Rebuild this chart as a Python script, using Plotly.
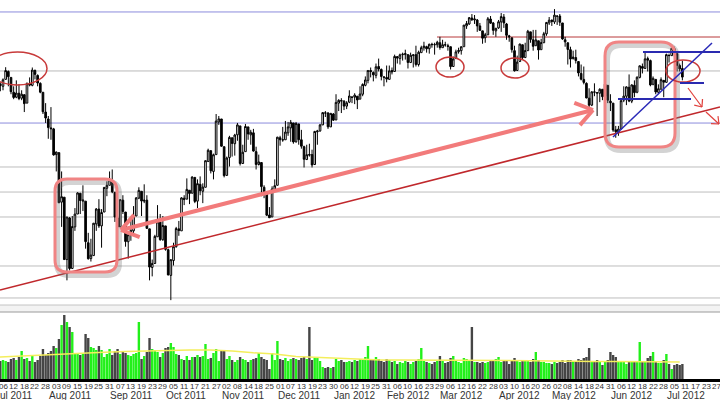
import math
import pandas as pd
import plotly.graph_objects as go

# ---------------- calendar (NYSE trading days) ----------------
holidays = ["2011-07-04", "2011-09-05", "2011-11-24", "2011-12-26", "2012-01-02",
            "2012-01-16", "2012-02-20", "2012-04-06", "2012-05-28", "2012-07-04"]
calendar = [d for d in pd.bdate_range("2011-07-01", "2012-07-31")
            if d.strftime("%Y-%m-%d") not in holidays]

# ---------------- daily data (Jul 1 2011 .. Jul 10 2012) ----------------
opens = [
    12410, 12580, 12560, 12630, 12710, 12650, 12500, 12450, 12490, 12440, 12475, 12390, 12590, 12570, 12720, 12670, 12590, 12500, 12300, 12230,
    12140, 12130, 11870, 11890, 11390, 11440, 10810, 11230, 10720, 11140, 11270, 11480, 11400, 11400, 10980, 10820, 10850, 11170, 11320, 11150, 11290, 11530, 11560,
    11610, 11490, 11230, 11140, 11410, 11290, 10990, 11060, 11100, 11250, 11430, 11500, 11400, 11410, 11120, 10730, 10770, 11040, 11190, 11010, 11150,
    10910, 10650, 10800, 10940, 11120, 11100, 11430, 11420, 11510, 11480, 11640, 11400, 11570, 11500, 11540, 11800, 11910, 11700, 11870, 12200, 12230,
    11950, 11660, 11840, 12040, 11980, 12070, 12160, 11780, 11900, 12150, 12070, 12090, 11900, 11770, 11790, 11540, 11480, 11260, 11240, 11520, 11560,
    12040, 12020, 12020, 12090, 12140, 12190, 12000, 12180, 12020, 11950, 11820, 11870, 11870, 11770, 12100, 12110, 12170, 12290, 12290, 12150, 12280,
    12220, 12390, 12410, 12410, 12360, 12400, 12450, 12450, 12460, 12430, 12480, 12570, 12620, 12720, 12700, 12670, 12760, 12730, 12650, 12650,
    12630, 12720, 12710, 12860, 12840, 12880, 12880, 12880, 12800, 12870, 12880, 12780, 12900, 12950, 12960, 12940, 12980, 12980, 12980, 13000,
    12950, 12980, 12970, 12960, 12760, 12840, 12910, 12920, 12960, 13170, 13190, 13250, 13230, 13230, 13170, 13120, 13050, 13080, 13240, 13200, 13120, 13150,
    13210, 13260, 13190, 13070, 13050, 12920, 12720, 12810, 12980, 12850, 12920, 13110, 13030, 12970, 13020, 12930, 13000, 13090, 13200, 13230,
    13210, 13270, 13270, 13200, 13030, 13000, 12930, 12840, 12850, 12810, 12690, 12630, 12590, 12440, 12370, 12500, 12490, 12490, 12530, 12460, 12570, 12410,
    12390, 12120, 12100, 12130, 12420, 12460, 12550, 12410, 12570, 12500, 12650, 12760, 12740, 12840, 12820, 12580, 12630, 12500, 12530, 12620, 12600,
    12870, 12870, 12940, 12890, 12770, 12740,
]
highs = [
    12600, 12600, 12640, 12753, 12720, 12650, 12560, 12620, 12580, 12520, 12480, 12600, 12650, 12750, 12730, 12680, 12600, 12500, 12390, 12260,
    12350, 12140, 11900, 11890, 11700, 11440, 11240, 11240, 11250, 11330, 11490, 11480, 11560, 11400, 11080, 11020, 11180, 11330, 11420, 11320, 11540, 11600, 11700,
    11720, 11490, 11240, 11420, 11460, 11290, 11080, 11210, 11350, 11440, 11540, 11500, 11570, 11460, 11120, 10810, 11060, 11360, 11270, 11250, 11150,
    10920, 10810, 10980, 11140, 11200, 11440, 11460, 11630, 11510, 11650, 11640, 11620, 11650, 11580, 11810, 11930, 11910, 11880, 12280, 12260, 12230,
    11950, 11850, 12060, 12040, 12080, 12190, 12160, 11970, 12180, 12150, 12120, 12130, 11950, 11870, 11790, 11560, 11490, 11340, 11550, 11620, 12050,
    12060, 12150, 12210, 12200, 12220, 12190, 12200, 12180, 12120, 11960, 11970, 11980, 11920, 12110, 12120, 12180, 12300, 12310, 12300, 12290, 12290,
    12480, 12430, 12440, 12420, 12410, 12520, 12460, 12490, 12460, 12560, 12590, 12660, 12720, 12750, 12710, 12790, 12840, 12740, 12660, 12770,
    12770, 12750, 12880, 12860, 12890, 12900, 12930, 12880, 12900, 12880, 12970, 12920, 12970, 13010, 12970, 12990, 13000, 13000, 13020, 13060,
    13030, 13010, 12990, 12960, 12860, 12930, 12950, 12960, 13180, 13220, 13260, 13290, 13280, 13240, 13200, 13120, 13100, 13260, 13270, 13210, 13150, 13230,
    13300, 13290, 13200, 13080, 13050, 12970, 12870, 12990, 12980, 13000, 13130, 13110, 13130, 13130, 13020, 13040, 13110, 13210, 13260, 13230,
    13340, 13270, 13290, 13200, 13060, 13000, 12960, 12920, 12930, 12810, 12780, 12760, 12600, 12540, 12510, 12590, 12500, 12540, 12530, 12610, 12570, 12480,
    12390, 12160, 12160, 12420, 12560, 12560, 12680, 12580, 12620, 12660, 12770, 12790, 12900, 12860, 12830, 12660, 12630, 12580, 12650, 12620, 12890,
    12890, 12950, 12960, 12890, 12790, 12820,
]
lows = [
    12400, 12510, 12520, 12630, 12560, 12480, 12430, 12440, 12420, 12420, 12300, 12390, 12560, 12560, 12630, 12560, 12490, 12280, 12190, 12030,
    12020, 11860, 11700, 11380, 11140, 10810, 10600, 10700, 10720, 11100, 11270, 11270, 11300, 10920, 10810, 10790, 10850, 11100, 11130, 10930, 11290, 11450, 11560,
    11480, 11190, 10930, 11140, 11270, 10940, 10820, 11000, 11060, 11250, 11420, 11250, 11380, 11120, 10600, 10640, 10770, 11040, 11000, 11000, 10900,
    10650, 10400, 10750, 10930, 11050, 11100, 11360, 11420, 11370, 11480, 11380, 11330, 11460, 11380, 11540, 11800, 11680, 11620, 11870, 12170, 11950,
    11640, 11660, 11750, 11850, 11860, 12010, 11760, 11780, 11900, 12020, 11970, 11900, 11720, 11760, 11450, 11430, 11250, 11230, 11240, 11500, 11560,
    11960, 12000, 12020, 12060, 12000, 11980, 11990, 11970, 11930, 11740, 11820, 11850, 11740, 11770, 11970, 12100, 12170, 12250, 12130, 12150, 12210,
    12220, 12310, 12290, 12320, 12330, 12390, 12390, 12380, 12330, 12430, 12460, 12560, 12590, 12650, 12610, 12640, 12710, 12620, 12560, 12600,
    12630, 12680, 12710, 12790, 12780, 12820, 12830, 12740, 12800, 12750, 12760, 12760, 12900, 12920, 12900, 12890, 12950, 12880, 12950, 12930,
    12950, 12960, 12920, 12730, 12760, 12840, 12890, 12880, 12960, 13140, 13180, 13220, 13190, 13110, 13120, 12990, 13000, 13080, 13190, 13080, 13060, 13140,
    13110, 13150, 13030, 13010, 12900, 12710, 12720, 12810, 12830, 12850, 12920, 13000, 12920, 12970, 12830, 12930, 13000, 13070, 13180, 13170,
    13190, 13180, 13170, 13030, 12960, 12780, 12750, 12830, 12790, 12660, 12620, 12580, 12440, 12350, 12360, 12460, 12260, 12400, 12420, 12460, 12390, 12310,
    12100, 12040, 12060, 12130, 12400, 12370, 12400, 12390, 12450, 12490, 12640, 12690, 12740, 12710, 12560, 12570, 12480, 12480, 12530, 12450, 12600,
    12800, 12870, 12860, 12710, 12710, 12620,
]
closes = [
    12582, 12570, 12626, 12719, 12657, 12506, 12447, 12492, 12437, 12480, 12385, 12587, 12572, 12724, 12681, 12593, 12501, 12303, 12240, 12143,
    12132, 11867, 11896, 11384, 11445, 10810, 11240, 10720, 11143, 11269, 11483, 11406, 11410, 10991, 10818, 10855, 11177, 11321, 11150, 11285, 11539, 11560, 11614,
    11494, 11240, 11139, 11415, 11296, 10992, 11061, 11106, 11247, 11433, 11509, 11401, 11409, 11125, 10734, 10771, 11044, 11191, 11011, 11154, 10913,
    10655, 10809, 10940, 11123, 11103, 11433, 11416, 11519, 11478, 11644, 11397, 11577, 11505, 11542, 11809, 11914, 11707, 11869, 12209, 12231, 11955,
    11658, 11836, 12044, 11983, 12068, 12170, 11781, 11894, 12154, 12079, 12096, 11906, 11771, 11796, 11547, 11494, 11258, 11232, 11523, 11556, 12046,
    12020, 12019, 12098, 12150, 12196, 11998, 12184, 12021, 11955, 11823, 11869, 11866, 11766, 12104, 12108, 12170, 12294, 12291, 12151, 12287, 12218,
    12397, 12418, 12416, 12360, 12393, 12462, 12449, 12471, 12422, 12482, 12579, 12624, 12720, 12709, 12676, 12757, 12735, 12660, 12654, 12633,
    12716, 12705, 12862, 12845, 12878, 12884, 12890, 12801, 12874, 12878, 12781, 12904, 12950, 12966, 12939, 12985, 12983, 12981, 13005, 12952,
    12980, 12978, 12963, 12759, 12837, 12908, 12922, 12960, 13178, 13194, 13253, 13233, 13239, 13170, 13125, 13046, 13081, 13242, 13198, 13126, 13146, 13212,
    13264, 13200, 13075, 13060, 12930, 12716, 12805, 12987, 12850, 12921, 13116, 13033, 12964, 13029, 12927, 13002, 13091, 13205, 13228, 13214,
    13279, 13269, 13207, 13038, 13009, 12932, 12835, 12855, 12821, 12695, 12632, 12599, 12442, 12369, 12504, 12503, 12496, 12530, 12455, 12581, 12420, 12393,
    12119, 12101, 12128, 12415, 12461, 12554, 12411, 12574, 12496, 12652, 12767, 12742, 12837, 12824, 12574, 12641, 12503, 12535, 12627, 12602, 12880,
    12871, 12944, 12897, 12772, 12736, 12653,
]
volumes = [
    200, 180, 190, 180, 170, 200, 210, 190, 220, 280, 200, 210, 180, 230, 170, 190, 230, 300, 240, 260,
    280, 330, 310, 400, 540, 640, 570, 520, 470, 260, 260, 240, 250, 450, 410, 320, 310, 290, 330, 290, 220, 250, 300,
    240, 280, 300, 250, 270, 260, 240, 230, 250, 260, 570, 200, 230, 270, 410, 300, 290, 270, 220, 260, 310,
    320, 360, 320, 250, 240, 200, 190, 230, 190, 220, 220, 240, 220, 230, 350, 200, 210, 260, 300, 180, 280,
    290, 200, 230, 190, 170, 190, 220, 200, 190, 170, 190, 200, 210, 260, 220, 200, 190, 100, 260, 190, 380,
    200, 190, 210, 180, 200, 210, 200, 190, 210, 220, 200, 520, 190, 220, 210, 180, 120, 110, 120, 110, 120,
    200, 180, 190, 170, 170, 180, 170, 190, 180, 200, 200, 220, 330, 200, 190, 220, 200, 180, 170, 200,
    190, 170, 180, 150, 170, 160, 180, 170, 150, 170, 180, 200, 310, 180, 170, 160, 150, 170, 180, 230,
    180, 160, 170, 210, 230, 190, 170, 160, 210, 200, 190, 520, 170, 170, 160, 170, 160, 170, 180, 190, 200, 220,
    170, 180, 190, 150, 180, 210, 180, 170, 190, 180, 190, 170, 200, 270, 190, 170, 170, 160, 160, 150,
    170, 160, 170, 190, 160, 190, 190, 170, 180, 200, 190, 210, 220, 310, 170, 180, 190, 170, 140, 170, 190, 270,
    240, 220, 170, 180, 170, 150, 170, 170, 170, 180, 370, 180, 170, 210, 230, 270, 170, 160, 160, 190, 250,
    150, 100, 140, 150, 140, 150,
]
# volume moving average, read every 8 trading days
ma_step = 8
ma_values = [220, 230, 245, 255, 262, 268, 275, 282, 288, 290, 290, 280, 262, 250, 225, 215, 205,
             195, 190, 190, 190, 188, 190, 190, 185, 182, 178, 176, 176, 175, 175, 172, 170]

# support / resistance levels (price units)
levels = [13311, 12715, 12189, 11745, 11492, 11240, 10745, 10422]
level_colors = ["#8c8cdc", "#b9b9b9", "#8c8cdc", "#bdbdbd", "#bdbdbd", "#bdbdbd", "#bdbdbd", "#bdbdbd"]
red_level = 13058

n = len(closes)
assert len(opens) == n and len(highs) == n and len(lows) == n and len(volumes) == n
x = list(range(n))

# ---------------- geometry ----------------
W, H, PB = 720, 400, 21
PLOT_H = H - PB
px_per_day = 714 / 268.0
first_tick = 2                       # Jul 6 2011
r0 = first_tick - 3 / px_per_day
r1 = r0 + W / px_per_day
FONT = "Arial, Liberation Sans, sans-serif"


def P(px, py):
    return px / W, (PLOT_H - py) / PLOT_H


def xpaper(idx):
    return (idx - r0) / (r1 - r0)


vol_colors = []
for i in range(n):
    prev = closes[i - 1] if i > 0 else opens[0]
    vol_colors.append("#22f01a" if closes[i] >= prev else "#454545")

fig = go.Figure()
fig.add_trace(go.Candlestick(
    x=x, open=opens, high=highs, low=lows, close=closes,
    increasing=dict(line=dict(color="black", width=1), fillcolor="white"),
    decreasing=dict(line=dict(color="black", width=1), fillcolor="black"),
    whiskerwidth=0, showlegend=False, hoverinfo="skip",
    xaxis="x", yaxis="y"))
fig.add_trace(go.Bar(x=x, y=volumes, marker=dict(color=vol_colors, line=dict(width=0)),
                     showlegend=False, hoverinfo="skip", xaxis="x", yaxis="y2"))
fig.add_trace(go.Scatter(x=[i * ma_step for i in range(len(ma_values))], y=ma_values, mode="lines",
                         line=dict(color="#f4ee5c", width=1.5), showlegend=False,
                         hoverinfo="skip", xaxis="x", yaxis="y2"))

shapes = []
for lev, col in zip(levels, level_colors):
    shapes.append(dict(type="line", xref="paper", x0=0, x1=1, yref="y", y0=lev, y1=lev,
                       line=dict(color=col, width=1), layer="below"))
shapes.append(dict(type="line", xref="paper", x0=437 / W, x1=1, yref="y", y0=red_level, y1=red_level,
                   line=dict(color="#b8393b", width=1), layer="below"))

# pane separator
ya, yb = P(0, 305)[1], P(0, 312)[1]
shapes.append(dict(type="rect", xref="paper", yref="paper", x0=0, x1=1, y0=yb, y1=ya,
                   fillcolor="#f3f3f3", line=dict(width=0), layer="below"))
for yy, col in ((ya, "#c4c4c4"), (yb, "#9a9a9a")):
    shapes.append(dict(type="line", xref="paper", yref="paper", x0=0, x1=1, y0=yy, y1=yy,
                       line=dict(color=col, width=1)))


def seg(a, b, color, width):
    (x0, y0), (x1, y1) = P(*a), P(*b)
    return dict(type="line", xref="paper", yref="paper", x0=x0, y0=y0, x1=x1, y1=y1,
                line=dict(color=color, width=width))


def vhead(tip, tail, length, ang, color, width):
    dx, dy = tail[0] - tip[0], tail[1] - tip[1]
    d = math.hypot(dx, dy)
    ux, uy = dx / d, dy / d
    out = []
    for s in (1, -1):
        a = math.radians(ang) * s
        rx = ux * math.cos(a) - uy * math.sin(a)
        ry = ux * math.sin(a) + uy * math.cos(a)
        out.append(seg(tip, (tip[0] + rx * length, tip[1] + ry * length), color, width))
    return out


def rrect(x0, y0, x1, y1, r):
    def p(a, b):
        u, v = P(a, b)
        return "%.5f,%.5f" % (u, v)
    s = "M " + p(x0 + r, y0)
    s += " L " + p(x1 - r, y0) + " Q " + p(x1, y0) + " " + p(x1, y0 + r)
    s += " L " + p(x1, y1 - r) + " Q " + p(x1, y1) + " " + p(x1 - r, y1)
    s += " L " + p(x0 + r, y1) + " Q " + p(x0, y1) + " " + p(x0, y1 - r)
    s += " L " + p(x0, y0 + r) + " Q " + p(x0, y0) + " " + p(x0 + r, y0) + " Z"
    return s


def ellipse(x0, y0, x1, y1, color="#c83a3a", width=1.5):
    a, b = P(x0, y0)
    c, d = P(x1, y1)
    return dict(type="circle", xref="paper", yref="paper", x0=a, y0=d, x1=c, y1=b,
                line=dict(color=color, width=width))


# thin red trend line
shapes.append(seg((0, 290), (720, 107), "#c0282c", 1.5))

# rounded boxes with shadow
for (bx0, by0, bx1, by1, r) in ((55, 179, 117, 272, 12), (605, 42, 675, 147, 14)):
    shapes.append(dict(type="path", xref="paper", yref="paper", path=rrect(bx0 + 2, by0 + 3, bx1 + 2, by1 + 3, r),
                       line=dict(color="rgba(110,110,110,0.30)", width=6)))
    shapes.append(dict(type="path", xref="paper", yref="paper", path=rrect(bx0, by0, bx1, by1, r),
                       line=dict(color="#f08484", width=3)))

# long double arrow
A, B = (121, 230), (593, 110)
shapes.append(seg(A, B, "#f27b7b", 4))
shapes += vhead(B, A, 20, 35, "#f27b7b", 4)
shapes += vhead(A, B, 20, 35, "#f27b7b", 4)

# ellipses
shapes.append(ellipse(-12, 52, 47, 85))
shapes.append(ellipse(436, 57, 464, 77))
shapes.append(ellipse(501, 58, 529, 78))
shapes.append(ellipse(666, 60, 700, 82))

# blue channel lines
shapes.append(seg((613, 137), (712, 43), "#2a2ab8", 1.5))
shapes.append(seg((643, 52), (720, 52), "#2a2ab0", 2))
shapes.append(seg((680, 83), (704, 83), "#2a2ab0", 2))
shapes.append(seg((618, 99), (691, 99), "#2a2ab0", 2))

# small red arrows
for t0, t1 in (((688, 88), (702, 107)), ((706, 112), (719, 124))):
    shapes.append(seg(t0, t1, "#e0403c", 1.2))
    shapes += vhead(t1, t0, 8, 40, "#e0403c", 1.2)

annotations = []
# day labels every 4 trading days
for i in range(first_tick, len(calendar), 4):
    annotations.append(dict(text="%02d" % calendar[i].day, xref="paper", yref="paper", x=xpaper(i),
                            y=(PLOT_H - 386) / PLOT_H, xanchor="center", yanchor="middle",
                            showarrow=False, borderpad=0,
                            font=dict(family=FONT, size=8, color="#333")))
# month labels, left-aligned at first trading day of each month
seen = set()
for i, d in enumerate(calendar):
    key = (d.year, d.month)
    if key in seen:
        continue
    seen.add(key)
    if d > pd.Timestamp("2012-07-27"):
        continue
    annotations.append(dict(text=d.strftime("%b %Y"), xref="paper", yref="paper", x=xpaper(i - 0.5),
                            y=(PLOT_H - 395) / PLOT_H, xanchor="left", yanchor="middle",
                            showarrow=False, borderpad=0, xshift=-2,
                            font=dict(family=FONT, size=10, color="#333")))

fig.update_layout(
    width=W, height=H, margin=dict(l=0, r=0, t=0, b=PB, autoexpand=False),
    paper_bgcolor="white", plot_bgcolor="white", showlegend=False, bargap=0.1, boxgap=0.12,
    xaxis=dict(type="linear", range=[r0, r1], showticklabels=False,
               showgrid=False, zeroline=False, showline=True, linecolor="black", linewidth=3,
               ticks="", automargin=False,
               anchor="y2", rangeslider=dict(visible=False), fixedrange=True),
    yaxis=dict(domain=[P(0, 305)[1], 1], range=[10351, 13431.8], visible=False, fixedrange=True),
    yaxis2=dict(domain=[0, P(0, 312)[1]], range=[0, 670], visible=False, fixedrange=True),
    shapes=shapes, annotations=annotations,
)

fig.write_html("out.html", config={"displayModeBar": False, "staticPlot": True},
               post_script="document.body.style.margin='0px';document.body.style.padding='0px';")
